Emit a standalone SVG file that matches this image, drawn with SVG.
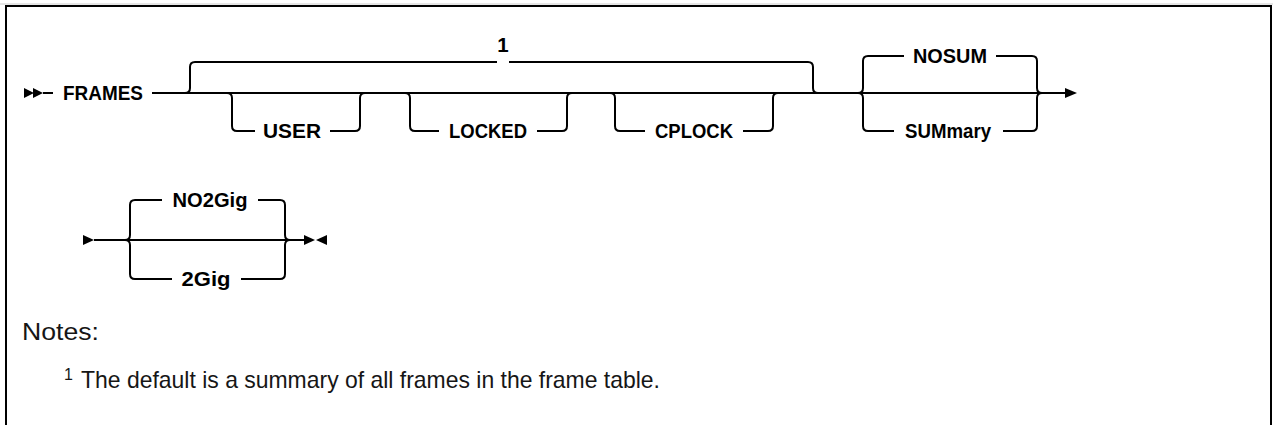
<svg xmlns="http://www.w3.org/2000/svg" width="1273" height="425" viewBox="0 0 1273 425">
<style>
.ln{fill:none;stroke:#000;stroke-width:2}
.kw{font-family:"Liberation Sans",Arial,sans-serif;font-weight:bold;font-size:20.5px;fill:#000;text-anchor:middle}
.nt{font-family:"Liberation Sans",Arial,sans-serif;font-size:24px;fill:#161616}
.sup{font-family:"Liberation Sans",Arial,sans-serif;font-size:16px;fill:#161616}
.ah{fill:#000}
</style>
<rect width="1273" height="425" fill="#fff"/>
<path d="M0,4 H1273" stroke="#ccc" stroke-width="1"/>
<path d="M6,425 V6 H1271 V425" fill="none" stroke="#000" stroke-width="2"/>
<g id="connectors">
<polygon class="ah" points="24,88 34,93 24,98"/>
<polygon class="ah" points="33,88 43,93 33,98"/>
<path class="ln" d="M43,93 H53"/>
<path class="ln" d="M152,93 H1066"/>
<path class="ln" d="M185,93 q5,0 5,-5 V67 q0,-5 5,-5 H497 M509,62 H808 q5,0 5,5 V88 q0,5 5,5"/>
<path class="ln" d="M227,93 q5,0 5,5 V126 q0,5 5,5 H255 M330,131 H355 q5,0 5,-5 V98 q0,-5 5,-5"/>
<path class="ln" d="M405,93 q5,0 5,5 V126 q0,5 5,5 H439 M537,131 H562 q5,0 5,-5 V98 q0,-5 5,-5"/>
<path class="ln" d="M610,93 q5,0 5,5 V126 q0,5 5,5 H645 M743,131 H768 q5,0 5,-5 V98 q0,-5 5,-5"/>
<path class="ln" d="M858,93 q5,0 5,-5 V61 q0,-5 5,-5 H904 M996,56 H1032 q5,0 5,5 V88 q0,5 5,5"/>
<path class="ln" d="M858,93 q5,0 5,5 V126 q0,5 5,5 H894 M1003,131 H1032 q5,0 5,-5 V98 q0,-5 5,-5"/>
<polygon class="ah" points="1065,88 1077,93 1065,98"/>
<polygon class="ah" points="83,235 94,240 83,245"/>
<path class="ln" d="M94,240 H305"/>
<path class="ln" d="M125,240 q5,0 5,-5 V205 q0,-5 5,-5 H162 M258,200 H280 q5,0 5,5 V235 q0,5 5,5"/>
<path class="ln" d="M125,240 q5,0 5,5 V274 q0,5 5,5 H172 M241,279 H280 q5,0 5,-5 V245 q0,-5 5,-5"/>
<polygon class="ah" points="304,235 315,240 304,245"/>
<polygon class="ah" points="327,235 316,240 327,245"/>
</g>
<g id="FRAMES"><text class="kw" x="103" y="100" textLength="80" lengthAdjust="spacingAndGlyphs">FRAMES</text></g>
<g id="note-ref"><text class="kw" x="503" y="52">1</text></g>
<g id="USER"><text class="kw" x="292" y="138" textLength="58" lengthAdjust="spacingAndGlyphs">USER</text></g>
<g id="LOCKED"><text class="kw" x="488" y="138" textLength="78" lengthAdjust="spacingAndGlyphs">LOCKED</text></g>
<g id="CPLOCK"><text class="kw" x="694" y="138" textLength="78" lengthAdjust="spacingAndGlyphs">CPLOCK</text></g>
<g id="NOSUM"><text class="kw" x="950" y="63" textLength="74" lengthAdjust="spacingAndGlyphs">NOSUM</text></g>
<g id="SUMmary"><text class="kw" x="948" y="138" textLength="86" lengthAdjust="spacingAndGlyphs">SUMmary</text></g>
<g id="NO2Gig"><text class="kw" x="210" y="207" textLength="75" lengthAdjust="spacingAndGlyphs">NO2Gig</text></g>
<g id="2Gig"><text class="kw" x="206" y="286" textLength="49" lengthAdjust="spacingAndGlyphs">2Gig</text></g>
<g id="notes">
<text class="nt" x="22" y="340" textLength="77" lengthAdjust="spacingAndGlyphs">Notes:</text>
<text class="sup" x="64" y="380">1</text>
<text class="nt" x="81" y="388" textLength="579" lengthAdjust="spacingAndGlyphs">The default is a summary of all frames in the frame table.</text>
</g>
</svg>
